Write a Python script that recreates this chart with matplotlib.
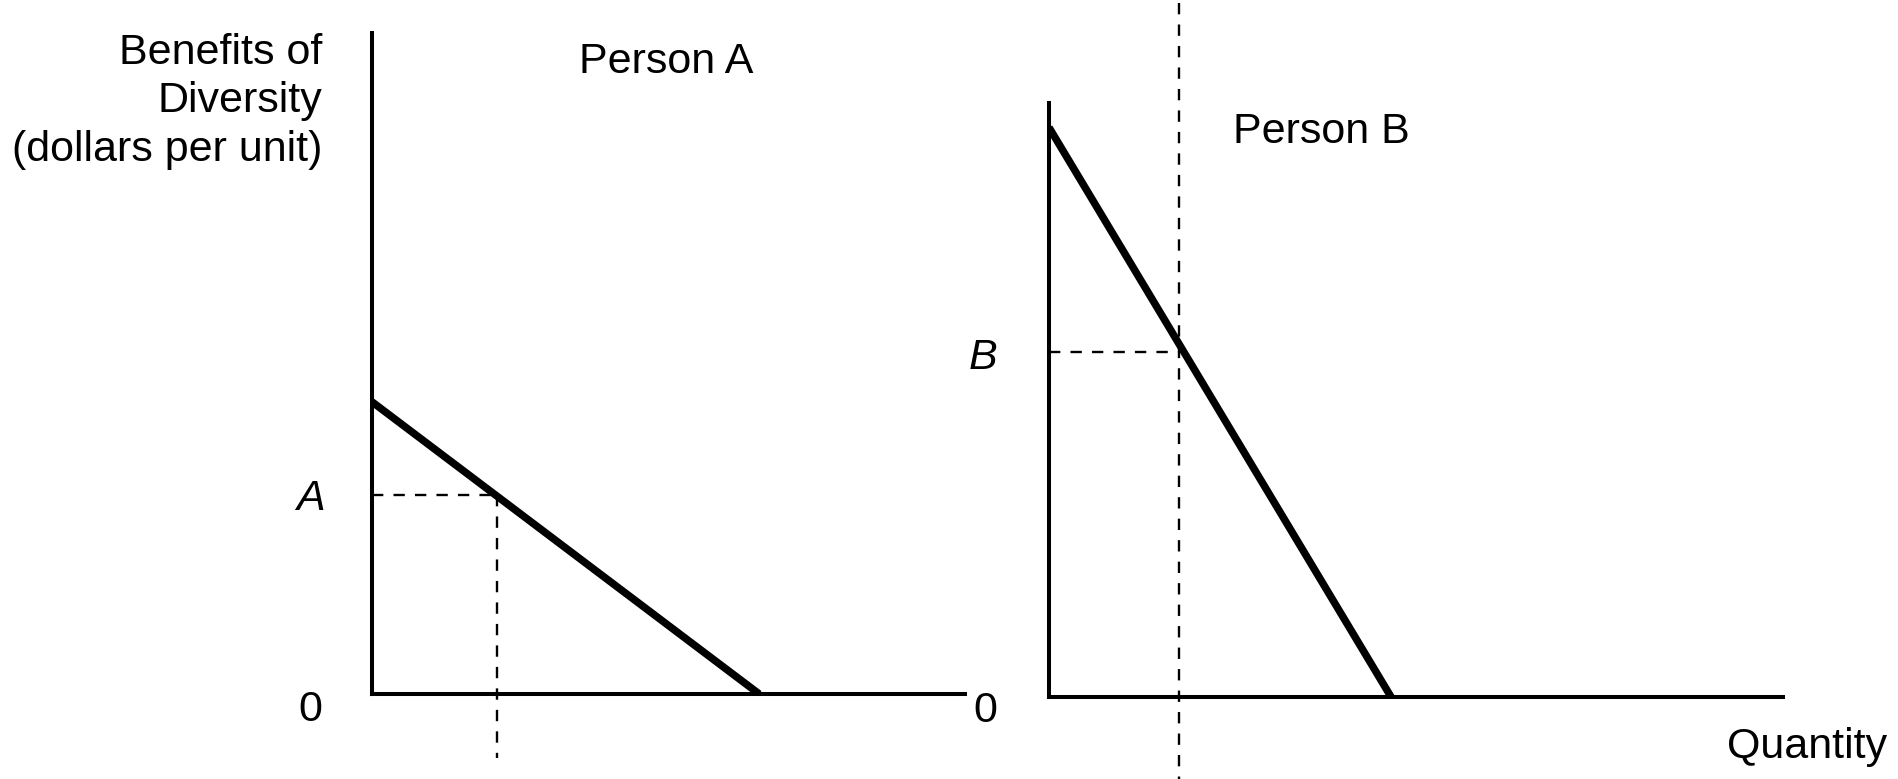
import matplotlib
matplotlib.use("Agg")
from matplotlib import pyplot as plt

# demand curves (quantity units, dollars per unit)
qty_a = [0, 6.53]
benefit_a = [4.42, 0]
chosen_q_a = 2.11
level_a = 3.01

qty_b = [0, 5.77]
benefit_b = [8.62, 0]
chosen_q_b = 2.2
level_b = 5.22

y_label_lines = ["Benefits of", "Diversity", "(dollars per unit)"]

W, H = 1899, 779
plt.rcParams['font.family'] = ['Liberation Sans', 'DejaVu Sans']
fs = 31

fig = plt.figure(figsize=(W / 100, H / 100), dpi=100)


def px(x, y):
    # pixel position (from top left) -> figure fraction
    return x / W, 1 - y / H


ax_a = fig.add_axes([372 / W, 1 - 694 / H, 593 / W, 661 / H])
ax_b = fig.add_axes([1049 / W, 1 - 697 / H, 734 / W, 594 / H])

ax_a.set_xlim(0, 10)
ax_a.set_ylim(0, 10)
ax_b.set_xlim(0, 12.38)
ax_b.set_ylim(0, 8.99)

for ax in [ax_a, ax_b]:
    ax.set_facecolor('none')
    ax.spines['top'].set_visible(False)
    ax.spines['right'].set_visible(False)
    for s in ['left', 'bottom']:
        ax.spines[s].set_linewidth(2.9)
        ax.spines[s].set_capstyle('projecting')
    ax.set_xticks([])
    ax.set_yticks([])

dash = dict(color='black', linewidth=1.7, linestyle=(0, (4.8, 4.3)), clip_on=False)

# person A
ax_a.plot(qty_a, benefit_a, color='black', linewidth=5.4, solid_capstyle='butt')
ax_a.plot([0, chosen_q_a], [level_a, level_a], **dash)
ax_a.plot([chosen_q_a, chosen_q_a], [level_a, -0.97], **dash)

# person B
ax_b.plot(qty_b, benefit_b, color='black', linewidth=5.4, solid_capstyle='butt')
ax_b.plot([0, chosen_q_b], [level_b, level_b], **dash)
ax_b.plot([chosen_q_b, chosen_q_b], [10.5, -1.25], **dash)

# texts
for line, yb in zip(y_label_lines, [64, 112, 161]):
    fig.text(*px(322, yb), line, ha='right', va='baseline', fontsize=fs)

fig.text(*px(579, 73), "Person A", ha='left', va='baseline', fontsize=fs)
fig.text(*px(1233, 143), "Person B", ha='left', va='baseline', fontsize=fs)
fig.text(*px(1727, 758), "Quantity", ha='left', va='baseline', fontsize=fs)

fig.text(*px(310, 510), "A", ha='center', va='baseline', fontsize=fs, style='italic')
fig.text(*px(983, 369), "B", ha='center', va='baseline', fontsize=fs, style='italic')
fig.text(*px(310, 721), "0", ha='center', va='baseline', fontsize=fs)
fig.text(*px(985, 722), "0", ha='center', va='baseline', fontsize=fs)

fig.savefig("out.png", dpi=100)
